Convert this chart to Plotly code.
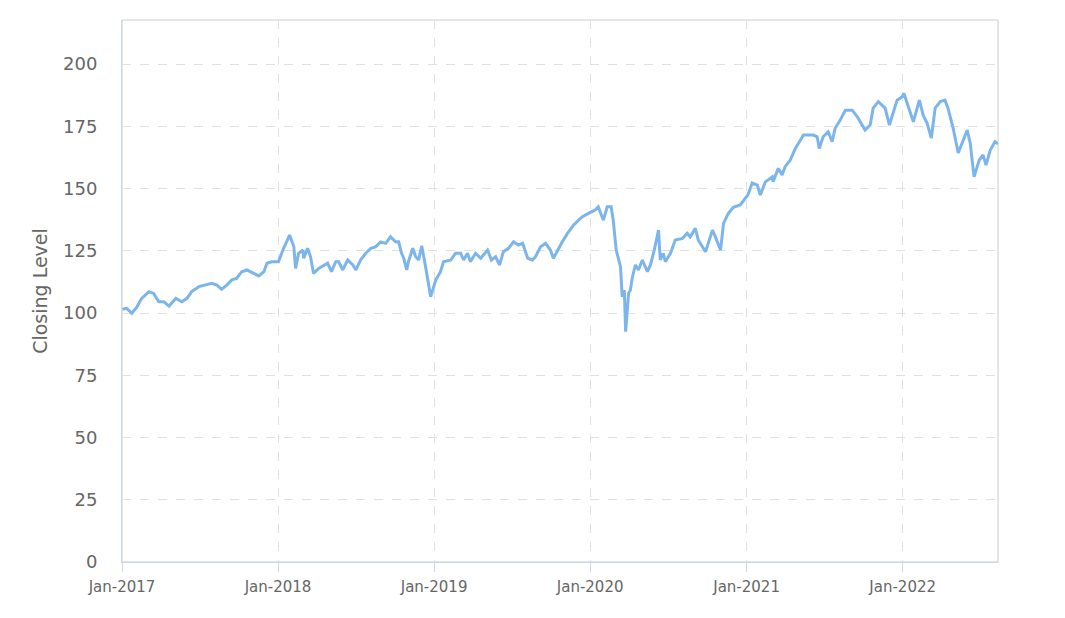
import plotly.graph_objects as go

dates = [
    "2017-01-02", "2017-01-12", "2017-01-24", "2017-02-05", "2017-02-16", "2017-03-05", "2017-03-16",
    "2017-03-28", "2017-04-09", "2017-04-21", "2017-05-07", "2017-05-21", "2017-06-02", "2017-06-13",
    "2017-06-30", "2017-07-16", "2017-07-30", "2017-08-11", "2017-08-22", "2017-09-03", "2017-09-15",
    "2017-09-26", "2017-10-08", "2017-10-20", "2017-11-01", "2017-11-17", "2017-11-29", "2017-12-06",
    "2017-12-17", "2018-01-02", "2018-01-14", "2018-01-28", "2018-02-07", "2018-02-11", "2018-02-18",
    "2018-02-28", "2018-03-02", "2018-03-11", "2018-03-18", "2018-03-25", "2018-04-06", "2018-04-18",
    "2018-04-27", "2018-05-06", "2018-05-16", "2018-05-23", "2018-06-01", "2018-06-13", "2018-06-25",
    "2018-07-02", "2018-07-13", "2018-07-25", "2018-08-06", "2018-08-17", "2018-08-29", "2018-09-10",
    "2018-09-21", "2018-10-03", "2018-10-10", "2018-10-17", "2018-10-22", "2018-10-29", "2018-11-02",
    "2018-11-12", "2018-11-19", "2018-11-26", "2018-12-03", "2018-12-10", "2018-12-15", "2018-12-20",
    "2018-12-24", "2019-01-05", "2019-01-16", "2019-01-23", "2019-02-09", "2019-02-20", "2019-03-04",
    "2019-03-11", "2019-03-20", "2019-03-27", "2019-04-08", "2019-04-20", "2019-05-06", "2019-05-15",
    "2019-05-25", "2019-06-03", "2019-06-12", "2019-06-24", "2019-07-06", "2019-07-17", "2019-07-27",
    "2019-08-08", "2019-08-19", "2019-08-26", "2019-09-07", "2019-09-19", "2019-09-30", "2019-10-07",
    "2019-10-17", "2019-10-28", "2019-11-09", "2019-11-23", "2019-12-05", "2019-12-14", "2019-12-28",
    "2020-01-13", "2020-01-20", "2020-02-01", "2020-02-10", "2020-02-19", "2020-02-24", "2020-03-02",
    "2020-03-12", "2020-03-16", "2020-03-21", "2020-03-24", "2020-03-31", "2020-04-04", "2020-04-09",
    "2020-04-16", "2020-04-23", "2020-05-02", "2020-05-14", "2020-05-21", "2020-05-30", "2020-06-09",
    "2020-06-13", "2020-06-20", "2020-06-25", "2020-07-07", "2020-07-18", "2020-08-04", "2020-08-15",
    "2020-08-22", "2020-09-03", "2020-09-10", "2020-09-27", "2020-10-13", "2020-10-20", "2020-11-01",
    "2020-11-08", "2020-11-19", "2020-12-01", "2020-12-17", "2021-01-04", "2021-01-14", "2021-01-26",
    "2021-02-02", "2021-02-14", "2021-03-02", "2021-03-04", "2021-03-16", "2021-03-25", "2021-04-01",
    "2021-04-13", "2021-04-25", "2021-05-07", "2021-05-14", "2021-06-06", "2021-06-15", "2021-06-20",
    "2021-06-29", "2021-07-11", "2021-07-20", "2021-07-27", "2021-08-08", "2021-08-20", "2021-09-05",
    "2021-09-17", "2021-09-24", "2021-10-05", "2021-10-17", "2021-10-24", "2021-11-05", "2021-11-21",
    "2021-12-01", "2021-12-10", "2021-12-19", "2021-12-31", "2022-01-04", "2022-01-26", "2022-02-09",
    "2022-02-18", "2022-02-27", "2022-03-09", "2022-03-18", "2022-03-30", "2022-04-10", "2022-04-17",
    "2022-04-29", "2022-05-11", "2022-05-22", "2022-06-01", "2022-06-08", "2022-06-17", "2022-06-29",
    "2022-07-08", "2022-07-15", "2022-07-25", "2022-08-05", "2022-08-12",
]

closing = [
    101.5, 101.9, 99.9, 102.5, 105.9, 108.6, 107.9,
    104.5, 104.5, 102.8, 105.9, 104.5, 105.9, 108.6,
    110.6, 111.2, 111.9, 111.2, 109.5, 111.2, 113.3,
    113.9, 116.6, 117.3, 116.2, 114.9, 116.6, 120.0,
    120.6, 120.6, 126.0, 131.3, 126.6, 117.9, 124.0,
    125.3, 122.0, 126.0, 122.6, 115.9, 117.9, 119.3,
    120.0, 116.6, 120.6, 120.6, 117.3, 121.3, 119.3,
    117.3, 121.3, 124.0, 126.0, 126.6, 128.6, 128.0,
    130.6, 128.6, 128.6, 124.0, 122.0, 117.3, 120.6,
    126.0, 122.6, 121.3, 127.0, 120.6, 115.9, 111.2,
    106.5, 113.3, 116.6, 120.6, 121.3, 124.0, 124.0,
    121.3, 124.0, 120.6, 124.0, 122.0, 125.3, 121.3,
    122.6, 119.3, 124.6, 126.0, 128.6, 127.3, 128.0,
    122.0, 121.3, 122.6, 126.6, 128.0, 125.3, 122.0,
    125.3, 128.6, 132.0, 135.3, 137.3, 138.7, 140.0,
    141.4, 142.7, 137.3, 142.7, 142.7, 137.3, 125.3,
    118.6, 106.5, 109.2, 92.5, 108.0, 109.2, 114.6,
    119.3, 117.3, 121.3, 116.6, 119.3, 125.3, 133.3,
    121.3, 124.0, 120.6, 124.0, 129.3, 130.0, 132.0,
    130.6, 134.0, 129.3, 124.6, 133.3, 130.6, 125.3,
    136.0, 140.0, 142.5, 143.4, 147.4, 152.2, 151.4,
    147.4, 152.7, 154.7, 152.7, 158.1, 155.4, 158.8,
    161.4, 166.1, 169.5, 171.5, 171.5, 170.8, 166.1,
    170.8, 172.8, 168.8, 174.2, 177.5, 181.5, 181.5,
    178.8, 176.8, 173.5, 175.5, 182.3, 184.9, 182.3,
    175.5, 180.8, 185.5, 186.9, 188.2, 176.8, 185.5,
    179.5, 176.3, 170.3, 182.3, 184.9, 185.5, 182.3,
    174.3, 164.3, 169.5, 173.5, 168.3, 154.7, 161.4,
    163.5, 159.4, 165.5, 168.8, 168.0,
]

x_start = "2017-01-01"
y_ticks = [0, 25, 50, 75, 100, 125, 150, 175, 200]
y_title = "Closing Level"

fig = go.Figure()
fig.add_trace(go.Scatter(
    x=dates, y=closing, mode="lines",
    line=dict(color="#7cb5ec", width=3),
    showlegend=False, hoverinfo="x+y",
))

fig.add_shape(type="rect", xref="paper", yref="paper", x0=0, y0=0, x1=1, y1=1,
              line=dict(color="#cccccc", width=1), layer="below")

fig.update_layout(
    width=1057, height=610,
    margin=dict(l=114, r=67, t=12, b=56),
    paper_bgcolor="white", plot_bgcolor="white",
    font=dict(family="DejaVu Sans", color="#666666"),
    xaxis=dict(
        type="date",
        range=[x_start, dates[-1]],
        tick0=x_start, dtick="M12", tickformat="%b-%Y",
        showgrid=True, gridcolor="#e0e0e0", griddash="dash", gridwidth=1,
        showline=True, linecolor="#ccd6eb", linewidth=1,
        ticks="outside", ticklen=9, tickcolor="#ccd6eb",
        ticklabelstandoff=2,
        tickfont=dict(size=15, color="#666666"),
        zeroline=False,
    ),
    yaxis=dict(
        range=[0, 217.7],
        tickvals=y_ticks,
        showgrid=True, gridcolor="#e0e0e0", griddash="dash", gridwidth=1,
        showline=True, linecolor="#ccd6eb", linewidth=1,
        ticks="", ticklabelstandoff=20,
        tickfont=dict(size=18, color="#666666"),
        title=dict(text=y_title, font=dict(size=19, color="#666666"), standoff=10),
        zeroline=False,
    ),
)

fig.write_html("out.html")
